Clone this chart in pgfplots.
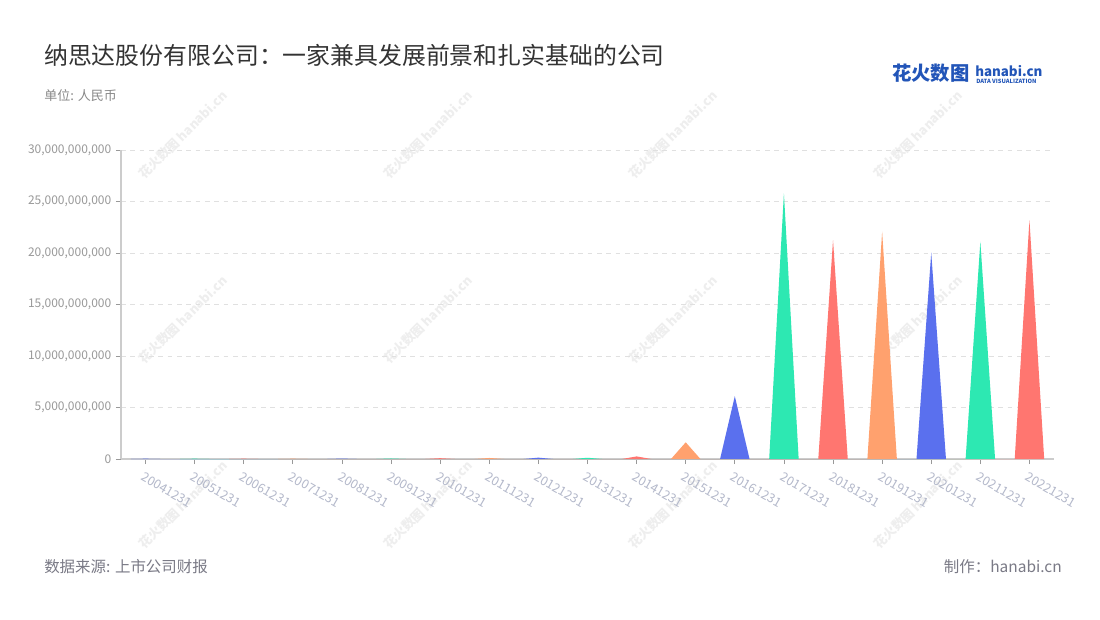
\documentclass[border=0pt]{standalone}
\usepackage{pgfplots}
\pgfplotsset{compat=1.18}
\usepackage{fontspec}
\setmainfont{Noto Sans CJK SC}
\definecolor{cblue}{HTML}{5A70EE}
\definecolor{cgreen}{HTML}{2DE8B2}
\definecolor{cred}{HTML}{FF7670}
\definecolor{corange}{HTML}{FFA16E}
\definecolor{axgray}{HTML}{CCCCCC}
\definecolor{tickgray}{HTML}{999999}
\definecolor{ylab}{HTML}{999999}
\definecolor{xlab}{HTML}{B3B8CA}
\definecolor{gridc}{HTML}{E0E0E0}
\definecolor{titlec}{HTML}{333333}
\definecolor{subc}{HTML}{888888}
\definecolor{footc}{HTML}{7A7A86}
\definecolor{wm}{HTML}{EEEEEE}
\definecolor{logob}{HTML}{2255B8}
\begin{document}
\begin{tikzpicture}[x=0.75pt,y=-0.75pt]
\useasboundingbox[fill=white] (0,0) rectangle (1100,620);
\foreach \cx in {183,428,673,918}
  \foreach \cy in {135,320,505}
    \node[rotate=45, text=wm, font=\fontsize{9.5}{10}\selectfont\bfseries] at (\cx,\cy) {花火数图 hanabi.cn};
\begin{axis}[
  at={(90.75pt,-344.25pt)}, anchor=south west, scale only axis,
  width=699.75pt, height=231.75pt,
  xmin=-0.5, xmax=18.5, ymin=0, ymax=30,
  axis x line*=bottom, axis y line*=left,
  x axis line style={draw=axgray, line width=1.5pt, -},
  y axis line style={draw=axgray, line width=1pt, -},
  tick align=outside, major tick length=3.75pt,
  tick style={draw=tickgray, line width=0.6pt},
  ymajorgrids, grid style={dash pattern=on 3.5pt off 3.5pt, draw=gridc, line width=0.6pt},
  ytick={0,5,10,15,20,25,30},
  yticklabels={0,{5,000,000,000},{10,000,000,000},{15,000,000,000},{20,000,000,000},{25,000,000,000},{30,000,000,000}},
  yticklabel style={font=\fontsize{9}{10}\selectfont, text=ylab},
  xtick={0,1,...,18},
  xticklabels={20041231,20051231,20061231,20071231,20081231,20091231,20101231,20111231,20121231,20131231,20141231,20151231,20161231,20171231,20181231,20191231,20201231,20211231,20221231},
  xticklabel style={rotate=-30, anchor=north west, font=\fontsize{9.4}{10}\selectfont, text=xlab, inner sep=1pt, xshift=1.5pt, yshift=-4pt},
]
\addplot[fill=cblue, draw=none] table {
x y
-0.3 0
0 0.03
0.3 0
3.7 0
4 0.04
4.3 0
7.7 0
8 0.13
8.3 0
11.7 0
12 6.1
12.3 0
15.7 0
16 20.03
16.3 0
} \closedcycle;
\addplot[fill=cgreen, draw=none] table {
x y
0.7 0
1 0.03
1.3 0
4.7 0
5 0.05
5.3 0
8.7 0
9 0.12
9.3 0
12.7 0
13 25.8
13.3 0
16.7 0
17 21.1
17.3 0
} \closedcycle;
\addplot[fill=cred, draw=none] table {
x y
1.7 0
2 0.03
2.3 0
5.7 0
6 0.08
6.3 0
9.7 0
10 0.25
10.3 0
13.7 0
14 21.26
14.3 0
17.7 0
18 23.2
18.3 0
} \closedcycle;
\addplot[fill=corange, draw=none] table {
x y
2.7 0
3 0.03
3.3 0
6.7 0
7 0.1
7.3 0
10.7 0
11 1.62
11.3 0
14.7 0
15 22.07
15.3 0
} \closedcycle;
\end{axis}
\node[anchor=west, text=titlec, font=\fontsize{17.9}{20}\selectfont, inner sep=0pt] at (44,55) {纳思达股份有限公司：一家兼具发展前景和扎实基础的公司};
\node[anchor=west, text=subc, font=\fontsize{9.75}{11}\selectfont, inner sep=0pt] at (44,96) {单位: 人民币};
\node[anchor=west, text=footc, font=\fontsize{11.6}{13}\selectfont, inner sep=0pt] at (44,567) {数据来源: 上市公司财报};
\node[anchor=east, text=footc, font=\fontsize{11.6}{13}\selectfont, inner sep=0pt] at (1062,567) {制作：hanabi.cn};
\node[anchor=west, text=logob, font=\fontsize{14.5}{15}\selectfont\bfseries, inner sep=0pt] at (892,73) {花火数图};
\node[anchor=south west, text=logob, font=\fontsize{10}{11}\selectfont\bfseries, inner sep=0pt] at (975,77) {hanabi.cn};
\node[anchor=north west, text=logob, font=\fontsize{4.3}{5}\selectfont\bfseries, inner sep=0pt] at (976,78.5) {DATA VISUALIZATION};
\end{tikzpicture}
\end{document}
